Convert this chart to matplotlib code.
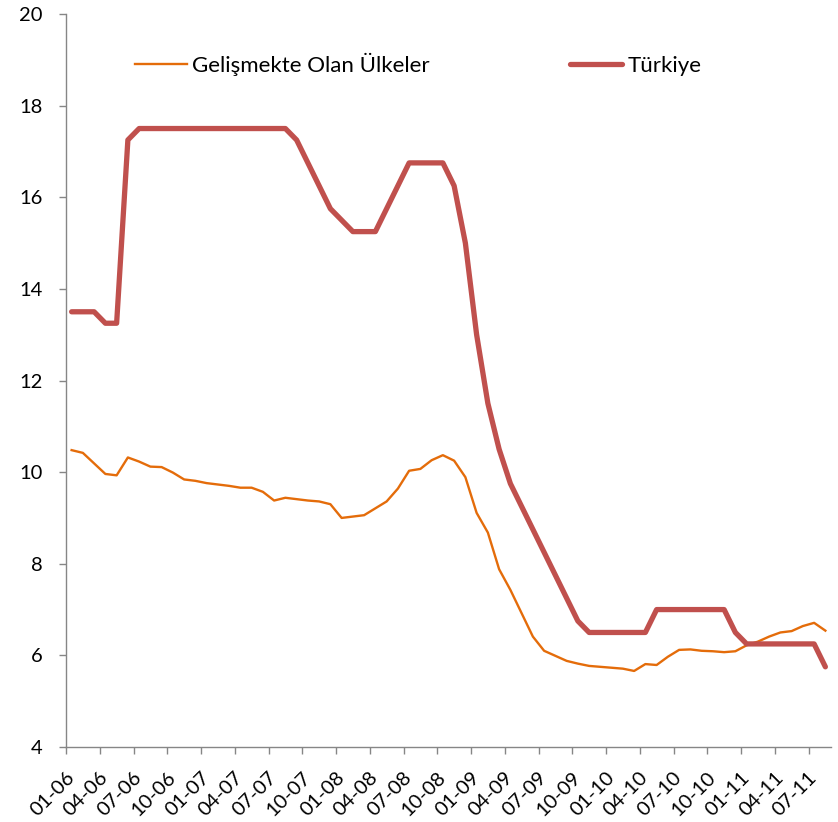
import matplotlib
matplotlib.use("Agg")
import matplotlib.pyplot as plt
import numpy as np

plt.rcParams['font.family'] = ['Lato', 'DejaVu Sans']

# Monthly data 01-06 .. 08-11 (68 months)
months = [f"{m:02d}-{y:02d}" for y in range(6, 12) for m in range(1, 13)][:68]

gelismekte = [10.48, 10.42, 10.19, 9.96, 9.93, 10.32, 10.23, 10.12, 10.11, 9.99,
              9.84, 9.81, 9.76, 9.73, 9.70, 9.66, 9.66, 9.57, 9.38, 9.44,
              9.41, 9.38, 9.36, 9.30, 9.00, 9.03, 9.06, 9.21, 9.36, 9.64,
              10.03, 10.07, 10.26, 10.37, 10.25, 9.89, 9.11, 8.68, 7.88, 7.43,
              6.92, 6.41, 6.10, 5.99, 5.88, 5.82, 5.77, 5.75, 5.73, 5.71,
              5.66, 5.81, 5.79, 5.97, 6.12, 6.13, 6.10, 6.09, 6.07, 6.09,
              6.22, 6.30, 6.41, 6.50, 6.53, 6.64, 6.71, 6.54]

turkiye = [13.5, 13.5, 13.5, 13.25, 13.25, 17.25, 17.5, 17.5, 17.5, 17.5,
           17.5, 17.5, 17.5, 17.5, 17.5, 17.5, 17.5, 17.5, 17.5, 17.5,
           17.25, 16.75, 16.25, 15.75, 15.5, 15.25, 15.25, 15.25, 15.75, 16.25,
           16.75, 16.75, 16.75, 16.75, 16.25, 15.0, 13.0, 11.5, 10.5, 9.75,
           9.25, 8.75, 8.25, 7.75, 7.25, 6.75, 6.5, 6.5, 6.5, 6.5,
           6.5, 6.5, 7.0, 7.0, 7.0, 7.0, 7.0, 7.0, 7.0, 6.5,
           6.25, 6.25, 6.25, 6.25, 6.25, 6.25, 6.25, 5.75]

yticks = [4, 6, 8, 10, 12, 14, 16, 18, 20]

fig = plt.figure(figsize=(8.38, 8.22), dpi=100)
ax = fig.add_axes([66/838, 1-747/822, (831-66)/838, (747-14)/822])

x = np.arange(len(months))
ax.plot(x, gelismekte, color='#E46C0A', lw=1.7, label='Gelişmekte Olan Ülkeler',
        solid_joinstyle='round')
ax.plot(x, turkiye, color='#C0504D', lw=3.8, label='Türkiye',
        solid_joinstyle='round', solid_capstyle='round')

ax.set_xlim(-0.5, len(months) - 0.5)
ax.set_ylim(4, 20)
ax.set_yticks(yticks)
ax.set_yticklabels([str(v) for v in yticks])

gray = '#868686'
for s in ['top', 'right']:
    ax.spines[s].set_visible(False)
for s in ['left', 'bottom']:
    ax.spines[s].set_color(gray)
    ax.spines[s].set_linewidth(1.0)

# major ticks at category boundaries, labels at category centres
ax.set_xticks(np.arange(-0.5, len(months), 3))
ax.set_xticklabels([])
ax.set_xticks(np.arange(0, len(months), 3), minor=True)
ax.set_xticklabels(months[::3], minor=True, rotation=45, ha='right',
                   va='center', rotation_mode='anchor', fontsize=14.5)
ax.tick_params(axis='x', which='major', direction='out', length=5, color=gray, width=1)
ax.tick_params(axis='x', which='minor', length=0, pad=20)
ax.tick_params(axis='y', direction='out', length=5, color=gray, width=1,
               labelsize=14.5, pad=12)

leg = ax.legend(loc='center left', bbox_to_anchor=((135-66)/765, 1-(64-14)/733), ncol=2,
                frameon=False, fontsize=16, handlelength=2.35, handletextpad=0.23,
                columnspacing=6.3, borderpad=0, borderaxespad=0)

fig.savefig('out.png', dpi=100)
